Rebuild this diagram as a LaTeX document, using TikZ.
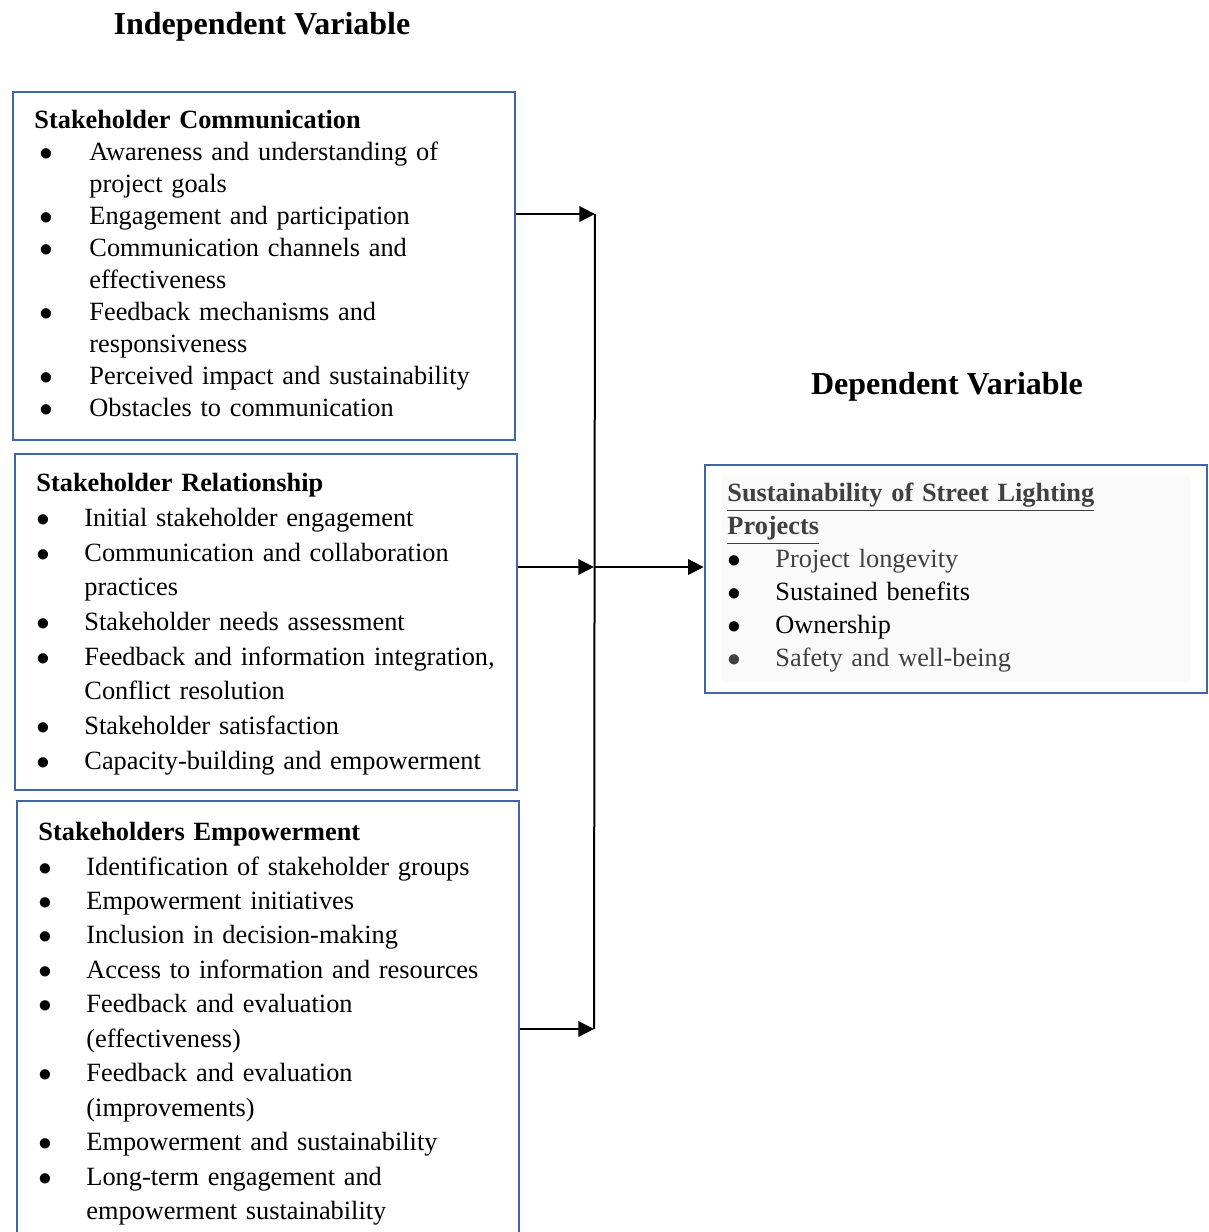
\documentclass[tikz,border=0pt]{standalone}
\usepackage{fontspec}
\setmainfont{Liberation Serif}
\usetikzlibrary{arrows.meta,fit,calc}

\definecolor{frameblue}{RGB}{65,100,170}
\definecolor{softgray}{RGB}{64,64,64}

\newlength\bulind
\newlength\txtind
\newcommand\bitem[1]{\par\noindent\hangindent=\txtind\hangafter=1%
  \hbox to\txtind{\hskip\bulind$\bullet$\hfil}#1}

\tikzset{
  frame/.style={draw=frameblue,line width=1.1pt,inner sep=0pt},
  vartitle/.style={font=\fontsize{14.4}{17}\selectfont\bfseries,inner sep=0pt},
  boxtext/.style={anchor=north west,inner sep=0pt,text width=215pt},
  flow/.style={-{Triangle[length=7pt,width=6.8pt]},line width=1.2pt},
  spine/.style={line width=0.9pt}
}

\begin{document}
\begin{tikzpicture}[x=0.45pt,y=-0.45pt]

    \useasboundingbox (0,0) rectangle (1209,1232);
    \clip (0,0) rectangle (1209,1232);

    \node[vartitle] (iv) at (262,27) {Independent Variable};
    \node[vartitle] (dv) at (947,387) {Dependent Variable};

    \node[frame,fit={(13,92) (515,440)}] (sc) {};
    \node[frame,fit={(15,454) (517,790)}] (sr) {};
    \node[frame,fit={(17,801) (519,1260)}] (se) {};
    \node[fill=black!2,inner sep=0pt,fit={(722,476) (1190,682)}] (susbg) {};
    \node[frame,fit={(705,465) (1207,693)}] (sus) {};

    \node[boxtext,font=\fontsize{11.85}{14.4}\selectfont] (sctext) at (34,106)
    {\setlength\bulind{2.2pt}\setlength\txtind{24.75pt}%
      \noindent\strut\textbf{Stakeholder Communication}
      \bitem{Awareness and understanding of\newline project goals}
      \bitem{Engagement and participation}
      \bitem{Communication channels and\newline effectiveness}
      \bitem{Feedback mechanisms and\newline responsiveness}
      \bitem{Perceived impact and sustainability}
      \bitem{Obstacles to communication}\par};

    \node[boxtext,font=\fontsize{11.85}{15.6}\selectfont] (srtext) at (36,467)
    {\setlength\bulind{0pt}\setlength\txtind{21.6pt}%
      \noindent\strut\textbf{Stakeholder Relationship}
      \bitem{Initial stakeholder engagement}
      \bitem{Communication and collaboration\newline practices}
      \bitem{Stakeholder needs assessment}
      \bitem{Feedback and information integration,\newline Conflict resolution}
      \bitem{Stakeholder satisfaction}
      \bitem{Capacity-building and empowerment}\par};

    \node[boxtext,font=\fontsize{11.85}{15.5}\selectfont] (setext) at (38,816)
    {\setlength\bulind{0pt}\setlength\txtind{21.6pt}%
      \noindent\strut\textbf{Stakeholders Empowerment}
      \bitem{Identification of stakeholder groups}
      \bitem{Empowerment initiatives}
      \bitem{Inclusion in decision-making}
      \bitem{Access to information and resources}
      \bitem{Feedback and evaluation\newline (effectiveness)}
      \bitem{Feedback and evaluation\newline (improvements)}
      \bitem{Empowerment and sustainability}
      \bitem{Long-term engagement and\newline empowerment sustainability}\par};

    \node[boxtext,text width=208pt,font=\fontsize{11.85}{14.85}\selectfont] (sustext) at (727,478)
    {\setlength\bulind{0pt}\setlength\txtind{21.6pt}%
      \noindent\strut{\color{softgray}\textbf{\underline{Sustainability of Street Lighting}\newline
      \underline{Projects}}}
      \bitem{{\color{softgray}Project longevity}}
      \bitem{Sustained benefits}
      \bitem{Ownership}
      \color{softgray}\bitem{Safety and well-being}\par};

    \coordinate (j1) at (595,214);
    \coordinate (j2) at (594,567);
    \coordinate (j3) at (594,1029);

    \draw[spine] (j1) -- (j3);
    \draw[flow] (sc.east |- j1) -- (j1);
    \draw[flow] (sr.east |- j2) -- (j2);
    \draw[flow] (se.east |- j3) -- (j3);
    \draw[flow] (j2) -- (sus.west |- j2);

\end{tikzpicture}
\end{document}
